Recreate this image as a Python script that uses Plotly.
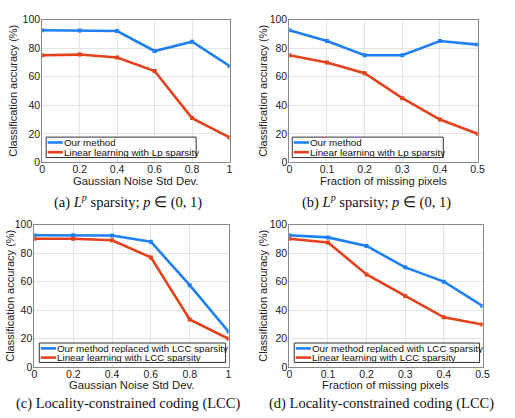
import plotly.graph_objects as go

W, H = 515, 418

noise_x = [0, 0.2, 0.4, 0.6, 0.8, 1.0]
missing_x = [0, 0.1, 0.2, 0.3, 0.4, 0.5]

a_ours = [92.5, 92.3, 92.0, 78.0, 84.5, 67.5]
a_lin = [75.0, 75.5, 73.5, 64.0, 31.0, 17.5]
b_ours = [92.5, 85.0, 75.0, 75.0, 85.0, 82.5]
b_lin = [75.0, 70.0, 62.5, 45.0, 30.0, 20.0]
c_ours = [92.5, 92.5, 92.3, 88.0, 57.5, 25.0]
c_lin = [90.0, 90.0, 89.0, 77.0, 33.5, 20.0]
d_ours = [92.5, 91.0, 85.0, 70.0, 60.0, 43.0]
d_lin = [90.0, 87.5, 65.0, 50.0, 35.0, 30.0]

noise_ticks = ["0", "0.2", "0.4", "0.6", "0.8", "1"]
missing_ticks = ["0", "0.1", "0.2", "0.3", "0.4", "0.5"]
y_ticks = [0, 20, 40, 60, 80, 100]

lp_names = ["Our method", "Linear learning with Lp sparsity"]
lcc_names = ["Our method replaced with LCC sparsity", "Linear learning with LCC sparsity"]

captions = [
    "(a) <i>L<sup>p</sup></i> sparsity; <i>p</i> ∈ (0, 1)",
    "(b) <i>L<sup>p</sup></i> sparsity; <i>p</i> ∈ (0, 1)",
    "(c) Locality-constrained coding (LCC)",
    "(d) Locality-constrained coding (LCC)",
]
x_titles = ["Gaussian Noise Std Dev.", "Fraction of missing pixels",
            "Gaussian Noise Std Dev.", "Fraction of missing pixels"]
y_title = "Classification accuracy (%)"

BLUE = "#1f80f5"
RED = "#e5411c"
SANS = "Liberation Sans"
SERIF = "Liberation Serif"

boxes = [(40, 231, 14, 161), (292, 484, 14, 161), (32, 230, 225, 372), (292, 489, 225, 372)]
panels = [
    (noise_x, a_ours, a_lin, lp_names, noise_ticks),
    (missing_x, b_ours, b_lin, lp_names, missing_ticks),
    (noise_x, c_ours, c_lin, lcc_names, noise_ticks),
    (missing_x, d_ours, d_lin, lcc_names, missing_ticks),
]
# legend box: left, top, right, bottom (px)
legend_box = [(44, 135, 197, 156), (295, 135, 449, 156), (37, 347, 227, 367), (297, 347, 486, 367)]
caption_pos = [(127, 201), (381, 201), (127, 409), (386, 409)]
ytitle_x = [10, 265, 7, 265]
xtitle_y = [180, 180, 390, 390]

fig = go.Figure()
layout = dict(
    width=W, height=H, margin=dict(l=0, r=0, t=0, b=0),
    paper_bgcolor="white", plot_bgcolor="white", showlegend=False,
    font=dict(family=SANS, size=10, color="#222"),
)
annotations = []
shapes = []


def px(x):
    return x / W


def py(y):
    return 1 - y / H


for i, (xs, ours, lin, names, ticks) in enumerate(panels):
    n = "" if i == 0 else str(i + 1)
    l, r, t, b = boxes[i]
    for ys, col, name in [(ours, BLUE, names[0]), (lin, RED, names[1])]:
        fig.add_trace(go.Scatter(
            x=xs, y=ys, mode="lines+markers", name=name,
            line=dict(color=col, width=2.6),
            marker=dict(symbol="square", size=4, color=col),
            xaxis="x" + n, yaxis="y" + n,
        ))
    layout["xaxis" + n] = dict(
        domain=[px(l), px(r)], anchor="y" + n, range=[xs[0], xs[-1]],
        tickvals=xs, ticktext=ticks, showgrid=True, gridcolor="#e4e4e4",
        showline=True, linecolor="#888", mirror=True, linewidth=1,
        ticks="", tickfont=dict(size=10.5, color="#222"), zeroline=False,
        ticklabelstandoff=-3,
    )
    layout["yaxis" + n] = dict(
        domain=[py(b), py(t)], anchor="x" + n, range=[0, 100],
        tickvals=y_ticks, showgrid=True, gridcolor="#e4e4e4",
        showline=True, linecolor="#888", mirror=True, linewidth=1,
        ticks="", tickfont=dict(size=10.5, color="#222"), zeroline=False,
        ticklabelstandoff=-1,
    )
    # legend (box, line samples, labels)
    L, T, R, B = legend_box[i]
    shapes.append(dict(type="rect", xref="paper", yref="paper",
                       x0=px(L), x1=px(R), y0=py(B), y1=py(T),
                       line=dict(color="#333", width=1), fillcolor="white"))
    step = (B - T) / 2 - 0.5
    for k, (col, name) in enumerate([(BLUE, names[0]), (RED, names[1])]):
        yc = T + 5.5 + k * step
        shapes.append(dict(type="line", xref="paper", yref="paper",
                           x0=px(L + 1.5), x1=px(L + 17), y0=py(yc), y1=py(yc),
                           line=dict(color=col, width=2.6)))
        annotations.append(dict(
            text=name, x=px(L + 17.5), y=py(yc), xref="paper", yref="paper",
            showarrow=False, xanchor="left", yanchor="middle",
            height=9, borderpad=0, valign="middle",
            font=dict(family=SANS, size=9.8, color="#111"),
        ))
    cx, cy = caption_pos[i]
    annotations.append(dict(
        text=captions[i], x=px(cx), y=py(cy), xref="paper", yref="paper",
        showarrow=False, font=dict(family=SERIF, size=14.5, color="#111"),
        xanchor="center", yanchor="middle",
    ))
    annotations.append(dict(
        text=x_titles[i], x=px((l + r) / 2), y=py(xtitle_y[i]),
        xref="paper", yref="paper", showarrow=False,
        font=dict(family=SANS, size=11.3, color="#222"),
        xanchor="center", yanchor="middle",
    ))
    annotations.append(dict(
        text=y_title, x=px(ytitle_x[i]), y=py((t + b) / 2),
        xref="paper", yref="paper", showarrow=False, textangle=-90,
        font=dict(family=SANS, size=11, color="#222"),
        xanchor="center", yanchor="middle",
    ))

layout["annotations"] = annotations
layout["shapes"] = shapes
fig.update_layout(**layout)
fig.write_html("out.html", post_script="document.body.style.margin='0';",
               config={"displayModeBar": False})
